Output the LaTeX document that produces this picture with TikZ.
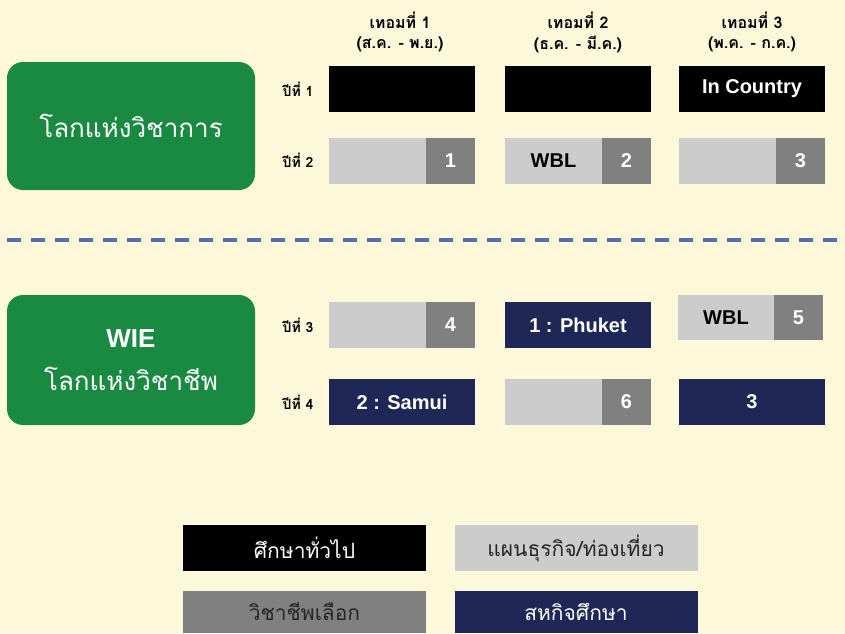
\documentclass[tikz,border=0pt]{standalone}
\usepackage{fontspec}
\setmainfont{Liberation Sans}
\newfontfamily\thai[Script=Thai]{Loma}
\definecolor{bg}{HTML}{FDF8DA}
\definecolor{grn}{HTML}{1A8A43}
\definecolor{lgray}{HTML}{CCCCCC}
\definecolor{dgray}{HTML}{808080}
\definecolor{navy}{HTML}{1F2756}
\definecolor{dashcol}{HTML}{4F6DB0}
\tikzset{
  cell/.style={rectangle, inner sep=0pt, outer sep=0pt, minimum height=46pt},
  wide/.style={cell, minimum width=146pt},
  lpart/.style={cell, minimum width=97pt, fill=lgray, text=black, font=\bfseries\fontsize{20}{23}\selectfont},
  rpart/.style={cell, minimum width=49pt, fill=dgray, text=white, font=\bfseries\fontsize{20}{23}\selectfont},
  blk/.style={wide, fill=black, text=white, font=\bfseries\fontsize{20}{23}\selectfont},
  nav/.style={wide, fill=navy, text=white, font=\bfseries\fontsize{20}{23}\selectfont},
  gbox/.style={rectangle, rounded corners=16pt, fill=grn, text=white, minimum width=248pt, inner sep=0pt, align=center},
  hdr/.style={inner sep=0pt, font=\thai\bfseries\fontsize{16}{18}\selectfont, text=black},
  yr/.style={inner sep=0pt, font=\thai\bfseries\fontsize{14}{16}\selectfont, text=black},
  leg/.style={rectangle, inner sep=0pt, minimum width=243pt, font=\thai\fontsize{21}{24}\selectfont}
}
\begin{document}
\begin{tikzpicture}[x=1pt,y=-1pt]
\useasboundingbox (0,0) rectangle (845,633);
\fill[bg] (0,0) rectangle (845,633);
% headers
\node[hdr] (t1) at (400,20) {เทอมที่ 1};
\node[hdr] (t1m) at (400,44) {(ส.ค. - พ.ย.)};
\node[hdr] (t2) at (578,20) {เทอมที่ 2};
\node[hdr] (t2m) at (578,44) {(ธ.ค. - มี.ค.)};
\node[hdr] (t3) at (752,20) {เทอมที่ 3};
\node[hdr] (t3m) at (752,44) {(พ.ค. - ก.ค.)};
% green boxes
\node[gbox, minimum height=128pt, font=\thai\fontsize{26}{30}\selectfont] (g1) at (131,126) {โลกแห่งวิชาการ};
\node[gbox, minimum height=130pt] (g2) at (131,360) {{\bfseries\fontsize{26}{28}\selectfont WIE}\\[19pt]{\thai\fontsize{26}{30}\selectfont โลกแห่งวิชาชีพ}};
% year labels
\node[yr] (y1) at (298,89) {ปีที่ 1};
\node[yr] (y2) at (298,160) {ปีที่ 2};
\node[yr] (y3) at (298,325) {ปีที่ 3};
\node[yr] (y4) at (298,402) {ปีที่ 4};
% row 1
\node[blk] (r1c1) at (402,89) {};
\node[blk] (r1c2) at (578,89) {};
\node[blk] (r1c3) at (752,89) {In Country};
% row 2
\node[lpart] (r2c1a) at (377.5,160.5) {};
\node[rpart] (r2c1b) at (450.5,160.5) {1};
\node[lpart] (r2c2a) at (553.5,160.5) {WBL};
\node[rpart] (r2c2b) at (626.5,160.5) {2};
\node[lpart] (r2c3a) at (727.5,160.5) {};
\node[rpart] (r2c3b) at (800.5,160.5) {3};
% dashed separator
\coordinate (dl) at (0,240);
\coordinate (dr) at (845,240);
\draw[dashcol, line width=4pt, dash pattern=on 14pt off 10pt] (dl) ++(7,0) -- (dr);
% row 3
\node[lpart] (r3c1a) at (377.5,325) {};
\node[rpart] (r3c1b) at (450.5,325) {4};
\node[nav] (r3c2) at (578,325) {1 : Phuket};
\node[lpart, minimum width=96pt, minimum height=45pt] (r3c3a) at (726,317.5) {WBL};
\node[rpart, minimum height=45pt] (r3c3b) at (798.5,317.5) {5};
% row 4
\node[nav] (r4c1) at (402,402) {2 : Samui};
\node[lpart] (r4c2a) at (553.5,402) {};
\node[rpart] (r4c2b) at (626.5,402) {6};
\node[nav] (r4c3) at (752,402) {3};
% legend
\node[leg, minimum height=46pt, fill=black, text=white] (lg1) at (304.5,548) {ศึกษาทั่วไป};
\node[leg, minimum height=46pt, fill=lgray, text=black!85] (lg2) at (576,548) {แผนธุรกิจ/ท่องเที่ยว};
\node[leg, minimum height=42pt, fill=dgray, text=black!85] (lg3) at (304.5,612) {วิชาชีพเลือก};
\node[leg, minimum height=42pt, fill=navy, text=white] (lg4) at (576,612) {สหกิจศึกษา};
\end{tikzpicture}
\end{document}
